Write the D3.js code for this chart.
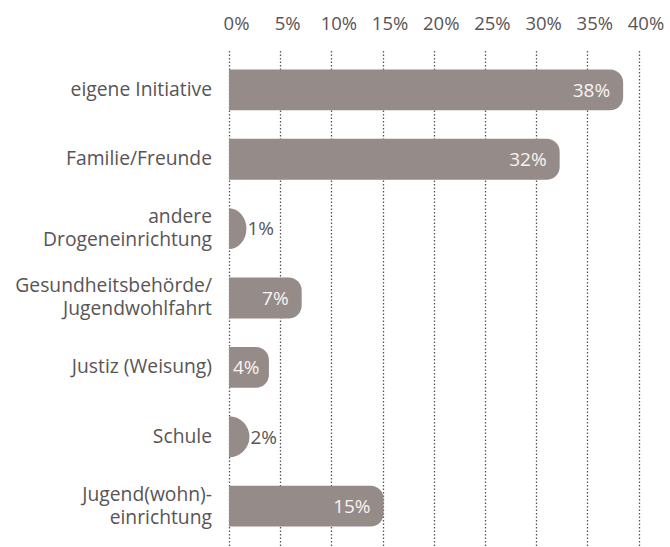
<!DOCTYPE html>
<html lang="de">
<head>
<meta charset="UTF-8">
<title>Zuweisung</title>
<script src="https://cdn.jsdelivr.net/npm/d3@7"></script>
<style>
    body { margin: 0; background: #fff; }
    text { font-family: "Open Sans", "Noto Sans", sans-serif; }
</style>
</head>
<body>
<script>
// chart data
const categories = [
    ["eigene Initiative"],
    ["Familie/Freunde"],
    ["andere", "Drogeneinrichtung"],
    ["Gesundheitsbehörde/", "Jugendwohlfahrt"],
    ["Justiz (Weisung)"],
    ["Schule"],
    ["Jugend(wohn)-", "einrichtung"]
];
const values = [38.5, 32.3, 1.7, 7.1, 3.9, 2.0, 15.1];
const valueLabels = ["38%", "32%", "1%", "7%", "4%", "2%", "15%"];
const ticks = [0, 5, 10, 15, 20, 25, 30, 35, 40];

const width = 670, height = 547;
const barColor = "#958b89", textColor = "#595455";

const svg = d3.select("body").append("svg")
    .attr("width", width).attr("height", height);

const x = d3.scaleLinear().domain([0, 40]).range([229, 638.5]);
const y = d3.scaleBand().domain(d3.range(categories.length))
    .range([41, 555]).paddingInner(0.41).paddingOuter(0.41);

// top axis labels
const xAxis = d3.axisTop(x).tickValues(ticks).tickFormat(d => d + "%").tickSize(0);
const gx = svg.append("g").attr("transform", "translate(7,30)").call(xAxis);
gx.select(".domain").remove();
gx.selectAll("text")
    .attr("y", 0).attr("dy", 0)
    .attr("fill", textColor).style("font-size", "18.5px");

// dotted grid
svg.append("g").selectAll("line").data(ticks).join("line")
    .attr("x1", d => Math.round(x(d)) + 0.5).attr("x2", d => Math.round(x(d)) + 0.5)
    .attr("y1", 51).attr("y2", height)
    .attr("stroke", "#555").attr("stroke-width", 1.3)
    .attr("stroke-dasharray", "1.5,2");

// bars: square left, rounded right
function barPath(d, i) {
    const x0 = x(0), w = x(d) - x(0), y0 = y(i), h = y.bandwidth();
    let rx = 13, ry = 13;
    if (w < 2 * rx) { rx = w; ry = h / 2; }
    return `M${x0},${y0} H${x0 + w - rx} A${rx},${ry} 0 0 1 ${x0 + w},${y0 + ry}` +
        ` V${y0 + h - ry} A${rx},${ry} 0 0 1 ${x0 + w - rx},${y0 + h} H${x0} Z`;
}
svg.append("g").selectAll("path").data(values).join("path")
    .attr("d", barPath).attr("fill", barColor);

// value labels
const inside = d => x(d) - x(0) > 30;
svg.append("g").selectAll("text").data(values).join("text")
    .attr("y", (d, i) => y(i) + y.bandwidth() / 2)
    .attr("dy", "0.36em")
    .attr("text-anchor", d => inside(d) ? "end" : "start")
    .attr("fill", d => inside(d) ? "#f7f4f3" : textColor)
    .style("font-size", "19px")
    .text((d, i) => valueLabels[i])
    .attr("x", function (d) {
        if (!inside(d)) return x(d) + 1;
        return Math.max(x(d) - 13, x(0) + 4 + this.getComputedTextLength());
    });

// category labels
const cat = svg.append("g").selectAll("text").data(categories).join("text")
    .attr("text-anchor", "end")
    .attr("fill", textColor)
    .style("font-size", "19.3px")
    .attr("transform", (d, i) => `translate(212,${y(i) + y.bandwidth() / 2 - 1})`);
cat.selectAll("tspan").data(d => d.map((t, j) => ({t, j, n: d.length}))).join("tspan")
    .attr("x", 0)
    .attr("y", d => (d.j - (d.n - 1) / 2) * 23)
    .attr("dy", "0.36em")
    .text(d => d.t);
</script>
</body>
</html>
